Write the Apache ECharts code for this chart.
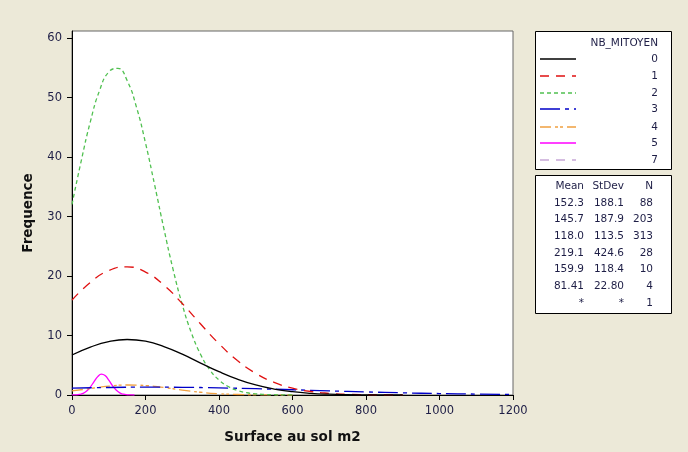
<!DOCTYPE html>
<html><head><meta charset="utf-8">
<script src="https://cdn.jsdelivr.net/npm/echarts@6/dist/echarts.min.js"></script>
<style>html,body{margin:0;padding:0;background:#ECE9D8;}#c{width:688px;height:452px;}</style>
</head><body><div id="c"></div>
<script>
// Group labels and summary stats
const groups = ['0','1','2','3','4','5','7'];
const means  = ['152.3','145.7','118.0','219.1','159.9','81.41','*'];
const stdevs = ['188.1','187.9','113.5','424.6','118.4','22.80','*'];
const counts = ['88','203','313','28','10','4','1'];
const xTicks = [0,200,400,600,800,1000,1200];
const yTicks = [0,10,20,30,40,50,60];

// Fitted curves
const x0 = [0,50,100,150,200,250,300,350,400,450,500,550,600,650,700,750,800,850,900];
const y0 = [6.72,8.05,8.98,9.33,9.04,8.15,6.86,5.37,3.92,2.67,1.69,1.00,0.55,0.28,0.135,0.060,0.025,0.010,0.004];
const x1 = [0,50,100,150,200,250,300,350,400,450,500,550,600,650,700,750,800,850,900];
const y1 = [15.96,18.93,20.92,21.54,20.67,18.47,15.38,11.93,8.62,5.81,3.64,2.13,1.16,0.59,0.28,0.12,0.05,0.019,0.007];
const x2 = [0,25,50,75,100,125,150,175,200,225,250,275,300,325,350,375,400,425,450,475,500,525,550,575,600];
const y2 = [32.04,39.33,45.97,51.20,54.32,54.91,52.87,48.49,42.37,35.27,27.97,21.13,15.21,10.43,6.81,4.24,2.51,1.42,0.76,0.39,0.19,0.089,0.039,0.017,0.007];
const x3 = [0,100,200,300,400,500,600,700,800,900,1000,1100,1200];
const y3 = [1.152,1.265,1.314,1.292,1.201,1.057,0.880,0.693,0.516,0.364,0.242,0.153,0.091];
const x4 = [0,50,100,150,200,250,300,350,400,450,500,550,600];
const y4 = [0.677,1.095,1.482,1.679,1.591,1.261,0.837,0.464,0.215,0.084,0.027,0.007,0.002];
const x5 = [0,10,20,30,40,50,60,70,80,90,100,110,120,130,140,150,160,170];
const y5 = [0.006,0.026,0.093,0.275,0.673,1.355,2.252,3.088,3.493,3.260,2.510,1.594,0.836,0.361,0.129,0.038,0.009,0.002];

const colors = ['#000000','#E01010','#50C050','#0000C8','#F0A040','#FF00FF','#C8A8D8'];
const dashes = ['solid',[9,7],[4,3],[20,5,4,5],[11,4,3,2,3,4],'solid',[9,7]];
const curves = [[x0,y0],[x1,y1],[x2,y2],[x3,y3],[x4,y4],[x5,y5]];

const pair = (xs, ys) => xs.map((x,i)=>[x, ys[i]]);
const series = curves.map((c,i)=>({
  type:'line', name:groups[i], data:pair(c[0],c[1]), smooth:true, symbol:'none',
  lineStyle:{color:colors[i], width:1.3, type:dashes[i]}, z: 3 + (6-i)
}));

const fontFam = 'DejaVu Sans';
const txtCol = '#1E1E46';
const graphics = [];
// legend box
graphics.push({type:'rect', shape:{x:535.5,y:31.5,width:136,height:138}, style:{fill:'#fff',stroke:'#000',lineWidth:1}, z:10});
graphics.push({type:'text', x:658, y:43, style:{text:'NB_MITOYEN', fill:txtCol, font:'10.5px '+fontFam, align:'right', verticalAlign:'middle'}, z:11});
const rowY = [59,76,93,109,127,143,160];
groups.forEach((g,i)=>{
  const st = {stroke:colors[i], lineWidth:1.6};
  if (dashes[i] !== 'solid') st.lineDash = dashes[i];
  graphics.push({type:'line', shape:{x1:540,y1:rowY[i],x2:576,y2:rowY[i]}, style:st, z:11});
  graphics.push({type:'text', x:658, y:rowY[i], style:{text:g, fill:txtCol, font:'10.5px '+fontFam, align:'right', verticalAlign:'middle'}, z:11});
});
// stats box
graphics.push({type:'rect', shape:{x:535.5,y:175.5,width:136,height:138}, style:{fill:'#fff',stroke:'#000',lineWidth:1}, z:10});
const statY = [186,203,219.5,236,253,269,286,303];
const cols = [584,624,653];
['Mean','StDev','N'].forEach((h,j)=>graphics.push({type:'text', x:cols[j], y:statY[0], style:{text:h, fill:txtCol, font:'10.5px '+fontFam, align:'right', verticalAlign:'middle'}, z:11}));
groups.forEach((g,i)=>{
  [means[i],stdevs[i],counts[i]].forEach((v,j)=>graphics.push({type:'text', x:cols[j], y:statY[i+1], style:{text:v, fill:txtCol, font:'10.5px '+fontFam, align:'right', verticalAlign:'middle'}, z:11}));
});

const chart = echarts.init(document.getElementById('c'), null, {renderer:'canvas'});
chart.setOption({
  backgroundColor:'#ECE9D8',
  animation:false,
  grid:{left:72, right:175, top:31, bottom:57, show:true, backgroundColor:'#fff', borderColor:'#666', borderWidth:1, containLabel:false},
  xAxis:{type:'value', min:0, max:1200, interval:200,
    name:'Surface au sol m2', nameLocation:'middle', nameGap:35,
    nameTextStyle:{fontFamily:fontFam, fontWeight:'bold', fontSize:13.5, color:'#111'},
    axisLine:{lineStyle:{color:'#000'}}, axisTick:{inside:false, length:5, lineStyle:{color:'#000'}},
    axisLabel:{margin:10, color:txtCol, fontFamily:fontFam, fontSize:11.5, formatter:(v)=>String(v)},
    splitLine:{show:false}},
  yAxis:{type:'value', min:0, max:61.2,
    name:'Frequence', nameLocation:'middle', nameGap:37, nameRotate:90,
    nameTextStyle:{fontFamily:fontFam, fontWeight:'bold', fontSize:13.5, color:'#111'},
    axisLine:{show:true, lineStyle:{color:'#000'}},
    axisTick:{show:true, inside:false, length:5, customValues:yTicks, lineStyle:{color:'#000'}},
    axisLabel:{margin:10, color:txtCol, fontFamily:fontFam, fontSize:11.5, customValues:yTicks, formatter:(v)=>String(v)},
    splitLine:{show:false}},
  series: series,
  graphic: graphics
});
</script></body></html>
